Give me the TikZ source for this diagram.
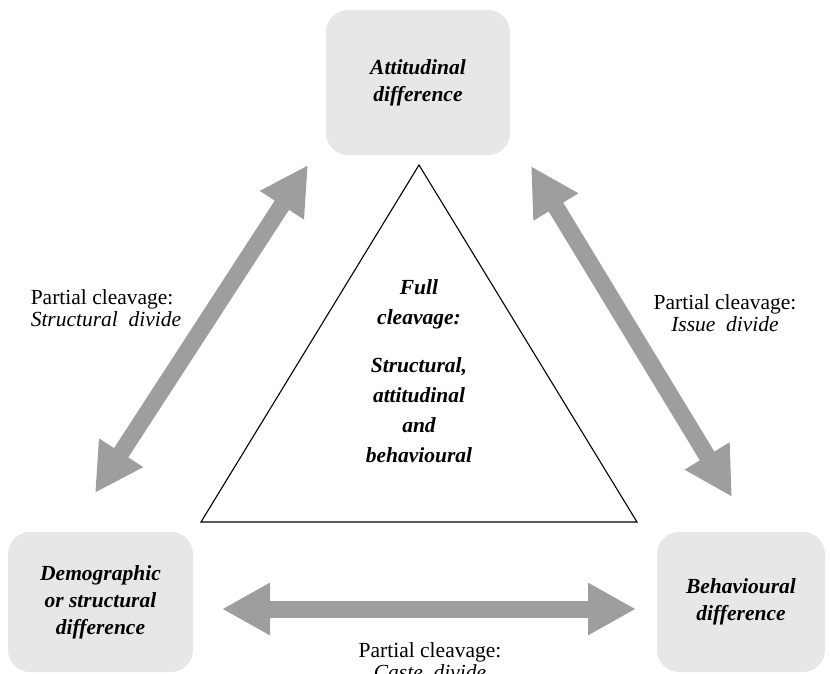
\documentclass[tikz,border=0pt]{standalone}
\usepackage{fontspec}
\setmainfont{Liberation Serif}
\usepackage{tikz}
\usetikzlibrary{arrows.meta}
\definecolor{boxgray}{HTML}{E7E7E7}
\definecolor{arrowgray}{HTML}{9E9E9E}

\begin{document}
\begin{tikzpicture}[x=1pt,y=-1pt,
  diffbox/.style={fill=boxgray, rounded corners=22pt, align=center, inner sep=0pt,
    font=\fontsize{21.5}{27}\selectfont\bfseries\itshape},
  cleavlabel/.style={font=\fontsize{21.5}{21.5}\selectfont, inner sep=0pt},
  bigarrow/.style={draw=arrowgray, line width=17pt,
    {Triangle[length=48pt,width=49pt]}-{Triangle[length=48pt,width=49pt]}}]
\useasboundingbox (0,0) rectangle (830,674);
% Difference boxes
\node[diffbox, minimum width=184pt, minimum height=145pt] (attit) at (418,82.5) {Attitudinal\\difference};
\node[diffbox, minimum width=185pt, minimum height=140pt] (demog) at (100.5,602) {Demographic\\or structural\\difference};
\node[diffbox, minimum width=168pt, minimum height=140pt] (behav) at (741,602) {Behavioural\\difference};
% Full cleavage triangle
\draw[line width=1.1pt, line join=miter] (201,522) -- (419,165) -- (637,522) -- cycle;
\node[align=center, inner sep=0pt, font=\fontsize{21.5}{30}\selectfont\bfseries\itshape] (fullcl) at (419,371)
  {Full\\cleavage:\\[18pt]Structural,\\attitudinal\\and\\behavioural};
% Partial cleavage arrows
\coordinate (sdlow) at (95,493);
\coordinate (sdhigh) at (308,165);
\coordinate (idhigh) at (531,166);
\coordinate (idlow) at (732,497);
\coordinate (cdleft) at (222,609);
\coordinate (cdright) at (636,609);
\draw[bigarrow] (sdlow) -- (sdhigh);
\draw[bigarrow] (idhigh) -- (idlow);
\draw[bigarrow] (cdleft) -- (cdright);
% Labels
\node[cleavlabel, align=left] (lblstruct) at (106,308) {Partial cleavage:\\\textit{Structural~ divide}};
\node[cleavlabel, align=center] (lblissue) at (725,313) {Partial cleavage:\\\textit{Issue~ divide}};
\node[cleavlabel, align=center] (lblcaste) at (430,661) {Partial cleavage:\\\textit{Caste~ divide}};
\end{tikzpicture}
\end{document}
